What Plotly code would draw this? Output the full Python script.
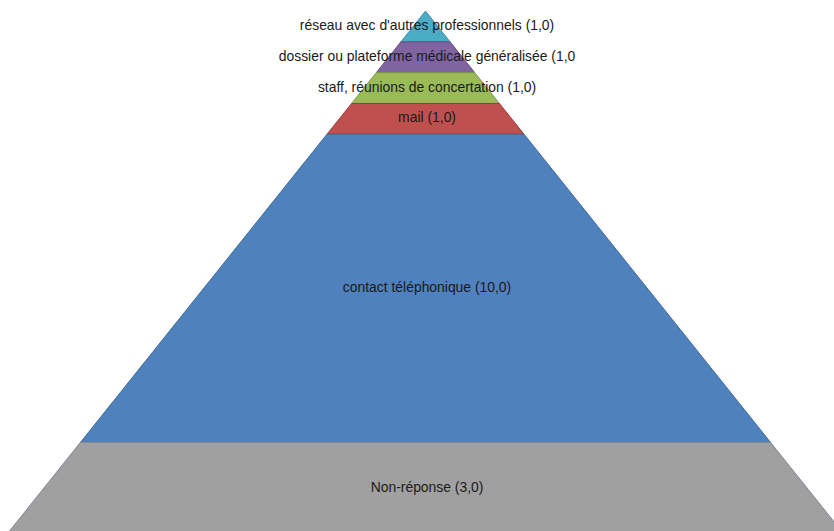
import plotly.graph_objects as go

# Data (top to bottom)
categories = [
    "réseau avec d'autres professionnels",
    "dossier ou plateforme médicale généralisée",
    "staff, réunions de concertation",
    "mail",
    "contact téléphonique",
    "Non-réponse",
]
values = [1.0, 1.0, 1.0, 1.0, 10.0, 3.0]
labels = [
    "réseau avec d'autres professionnels (1,0)",
    "dossier ou plateforme médicale généralisée (1,0",
    "staff, réunions de concertation (1,0)",
    "mail (1,0)",
    "contact téléphonique (10,0)",
    "Non-réponse (3,0)",
]
colors = ["#4BACC6", "#8064A2", "#9BBB59", "#C0504D", "#4F81BD", "#A0A0A0"]
edge_colors = ["#3A8DA5", "#624B82", "#7D9A43", "#9C3A38", "#3B68A0", "#7F8795"]

SLOPE = 0.8  # half-width per unit of depth

fig = go.Figure()
cum = 0.0
for cat, v, lab, col, ec in zip(categories, values, labels, colors, edge_colors):
    y0, y1 = cum, cum + v
    xs = [-SLOPE * y0, SLOPE * y0, SLOPE * y1, -SLOPE * y1, -SLOPE * y0]
    ys = [y0, y0, y1, y1, y0]
    fig.add_trace(go.Scatter(
        x=xs, y=ys, mode="lines", fill="toself", fillcolor=col,
        line=dict(color=ec, width=1), hoverinfo="skip", showlegend=False,
        name=cat,
    ))
    cum = y1

# labels
cum = 0.0
for v, lab in zip(values, labels):
    fig.add_trace(go.Scatter(
        x=[0.05], y=[cum + v / 2], mode="text", text=[lab],
        textfont=dict(family="Liberation Sans, Arial, sans-serif", size=13.9, color="#1a1a1a"),
        hoverinfo="skip", showlegend=False,
    ))
    cum += v

fig.update_layout(
    width=834, height=531,
    margin=dict(l=0, r=0, t=0, b=0),
    paper_bgcolor="white", plot_bgcolor="white",
    xaxis=dict(range=[-13.815, 13.263], visible=False, fixedrange=True),
    yaxis=dict(range=[16.88, -0.36], visible=False, fixedrange=True),
)

fig.write_html(
    "out.html",
    config={"displayModeBar": False},
    post_script="document.body.style.margin='0';document.body.style.overflow='hidden';",
)
